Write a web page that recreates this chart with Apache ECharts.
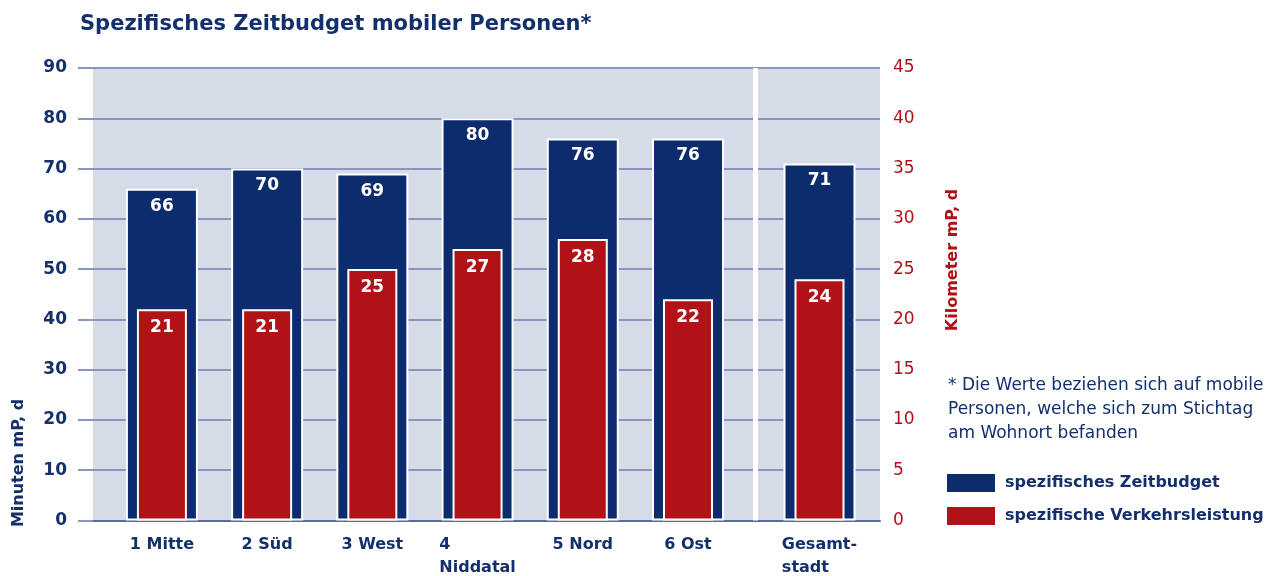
<!DOCTYPE html>
<html><head><meta charset="utf-8">
<script src="https://cdn.jsdelivr.net/npm/echarts@6/dist/echarts.min.js"></script>
<style>html,body{margin:0;padding:0;background:#fff}#c{width:1272px;height:576px}</style>
</head><body><div id="c"></div>
<script>
const categories = ['1 Mitte', '2 Süd', '3 West', '4\nNiddatal', '5 Nord', '6 Ost', 'Gesamt-\nstadt'];
const zeitbudget = [66, 70, 69, 80, 76, 76, 71];          // Minuten mP, d
const verkehrsleistung = [21, 21, 25, 27, 28, 22, 24];     // Kilometer mP, d
const seriesNames = ['spezifisches Zeitbudget', 'spezifische Verkehrsleistung'];
const title = 'Spezifisches Zeitbudget mobiler Personen*';
const footnote = '* Die Werte beziehen sich auf mobile\nPersonen, welche sich zum Stichtag\nam Wohnort befanden';
const leftAxisName = 'Minuten mP, d';
const rightAxisName = 'Kilometer mP, d';

const NAVY = '#14306c', BAR_BLUE = '#0c2c6e', RED = '#b11217', GRID = '#8d94bf';
const FONT = '"DejaVu Sans", "Noto Sans", sans-serif';

// the summary column "Gesamtstadt" is set apart from the districts
const xPos = categories.map((c, i) => i < 6 ? i + 1 : 7.25);
const separatorAt = 6.645;
const xMin = 0.345, xMax = 7.825;

const chart = echarts.init(document.getElementById('c'), null, {renderer: 'canvas'});

const xLabel = v => {
  const i = xPos.findIndex(p => Math.abs(p - v) < 1e-6);
  if (i < 0) return '';
  return categories[i].split('\n').map(s => '{l|' + s + '}').join('\n');
};

chart.setOption({
  animation: false,
  textStyle: {fontFamily: FONT},
  title: {
    text: title, left: 75, top: 9,
    textStyle: {fontSize: 21, fontWeight: 'bold', color: NAVY, fontFamily: FONT}
  },
  grid: {
    left: 93, right: 392, top: 68, bottom: 54,
    show: true, backgroundColor: '#d5dce8', borderWidth: 0, containLabel: false
  },
  xAxis: [{
    type: 'value', min: xMin, max: xMax, gridIndex: 0,
    axisLine: {show: true, lineStyle: {color: '#5b6b9e', width: 2}},
    axisTick: {show: false},
    splitLine: {show: false},
    axisLabel: {
      customValues: xPos, formatter: xLabel, margin: 13,
      rich: {l: {align: 'left', fontSize: 16, fontWeight: 'bold', color: NAVY, lineHeight: 23, fontFamily: FONT}}
    }
  }, {
    type: 'value', min: xMin, max: xMax, gridIndex: 0, show: false
  }],
  yAxis: [{
    type: 'value', min: 0, max: 90, interval: 10, position: 'left',
    axisLine: {show: false},
    axisTick: {show: true, length: 15, lineStyle: {color: GRID, width: 2}},
    splitLine: {show: true, lineStyle: {color: GRID, width: 2}},
    axisLabel: {color: NAVY, fontSize: 17, fontWeight: 'bold', margin: 26, fontFamily: FONT}
  }, {
    type: 'value', min: 0, max: 45, interval: 5, position: 'right',
    axisLine: {show: false}, axisTick: {show: false}, splitLine: {show: false},
    axisLabel: {color: RED, fontSize: 17, margin: 13, fontFamily: FONT}
  }],
  legend: {
    orient: 'vertical', left: 947, top: 474, padding: 0,
    itemWidth: 48, itemHeight: 18, itemGap: 15, icon: 'rect',
    itemStyle: {borderWidth: 0},
    data: seriesNames,
    textStyle: {color: NAVY, fontSize: 16, fontWeight: 'bold', fontFamily: FONT, padding: [0, 0, 0, 5]}
  },
  graphic: [
    {type: 'text', x: 19, y: 463, rotation: Math.PI / 2,
     style: {text: leftAxisName, fill: NAVY, font: 'bold 16px ' + FONT, textAlign: 'center', textVerticalAlign: 'middle'}},
    {type: 'text', x: 953, y: 260, rotation: Math.PI / 2,
     style: {text: rightAxisName, fill: RED, font: 'bold 16px ' + FONT, textAlign: 'center', textVerticalAlign: 'middle'}},
    {type: 'text', left: 948, top: 374,
     style: {text: footnote, fill: NAVY, font: '17px ' + FONT, lineHeight: 24}}
  ],
  series: [{
    name: seriesNames[0], type: 'bar', xAxisIndex: 0, yAxisIndex: 0,
    barWidth: 72,
    data: zeitbudget.map((v, i) => [xPos[i], v]),
    itemStyle: {color: BAR_BLUE, borderColor: '#ffffff', borderWidth: 2},
    label: {show: true, position: 'insideTop', distance: 9, color: '#fff', fontSize: 17, fontWeight: 'bold', fontFamily: FONT,
            formatter: p => p.value[1]},
    markLine: {
      silent: true, symbol: ['none', 'none'], label: {show: false},
      lineStyle: {color: '#ffffff', width: 5, type: 'solid'},
      emphasis: {disabled: true},
      data: [{xAxis: separatorAt}]
    }
  }, {
    name: seriesNames[1], type: 'bar', xAxisIndex: 1, yAxisIndex: 1,
    barWidth: 50,
    data: verkehrsleistung.map((v, i) => [xPos[i], v]),
    itemStyle: {color: RED, borderColor: '#ffffff', borderWidth: 2},
    label: {show: true, position: 'insideTop', distance: 10, color: '#fff', fontSize: 17, fontWeight: 'bold', fontFamily: FONT,
            formatter: p => p.value[1]}
  }]
});
</script></body></html>
